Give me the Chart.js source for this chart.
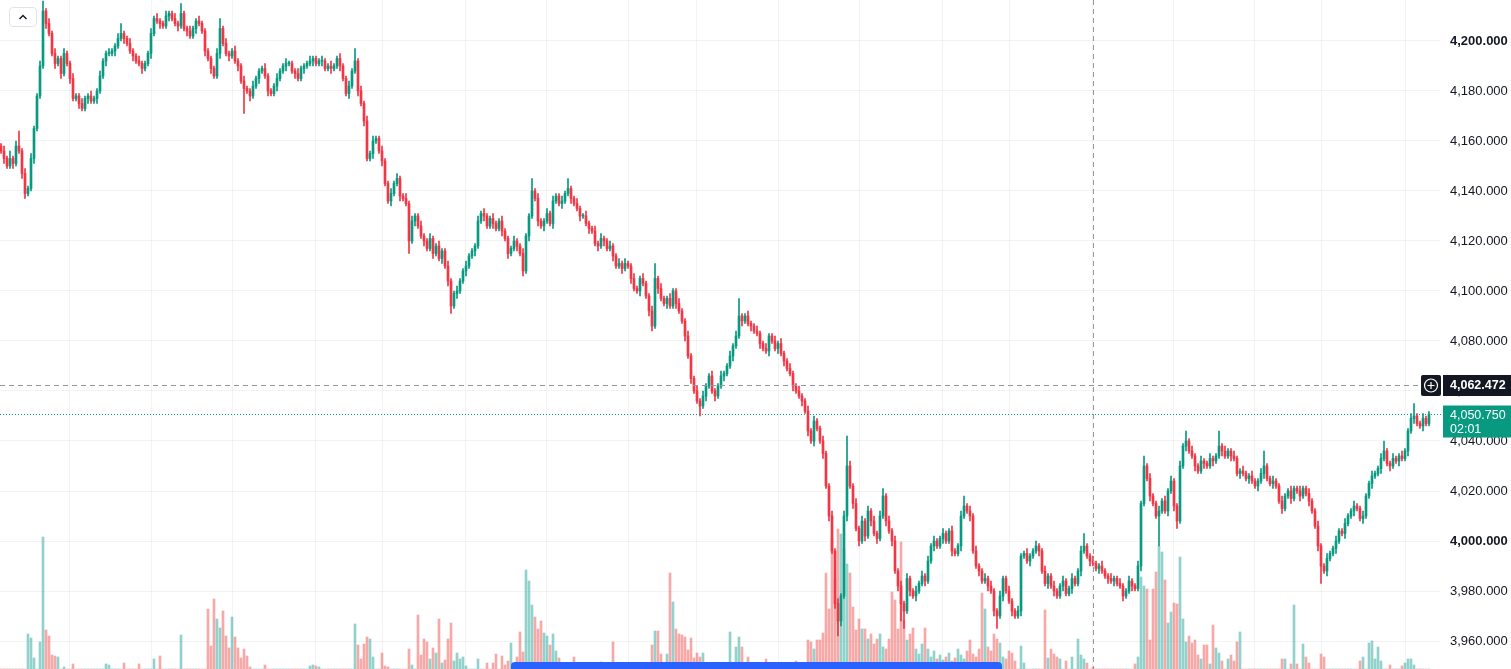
<!DOCTYPE html>
<html>
<head>
<meta charset="utf-8">
<script src="https://cdn.jsdelivr.net/npm/chart.js@4.4.1/dist/chart.umd.min.js"></script>
<style>
  html, body { margin: 0; padding: 0; background: #fff; overflow: hidden; }
  #wrap { position: relative; width: 1511px; height: 669px; }
  #scrollBtn { position: absolute; left: 9px; top: 7px; width: 28px; height: 20px; box-sizing: border-box;
    border: 1px solid #e0e3eb; border-radius: 4px; background: #fff; display: flex; align-items: center; justify-content: center; }
  #scrollbar { position: absolute; left: 511px; top: 662px; width: 491px; height: 7px; background: #2962ff; border-radius: 4px 4px 0 0; }
</style>
</head>
<body>
<div id="wrap">
  <canvas id="chart" width="1511" height="669"></canvas>
  <div id="scrollBtn"><svg width="10" height="6" viewBox="0 0 10 6"><path d="M1.5 5 L5 1.5 L8.5 5" fill="none" stroke="#131722" stroke-width="1.4"/></svg></div>
  <div id="scrollbar"></div>
</div>
<script>
// --- data (one candle every ~3 px) ---
const firstOpen = 4158;
const closes = [
  4156,4153,4150,4153,4151,4158,4156,4147,4139,4141,
  4153,4165,4178,4190,4212,4207,4203,4195,4191,4193,
  4187,4195,4191,4185,4177,4178,4175,4173,4177,4178,
  4176,4177,4180,4186,4192,4195,4195,4196,4198,4201,
  4203,4201,4199,4196,4194,4192,4191,4189,4191,4195,
  4203,4209,4208,4207,4206,4210,4211,4209,4207,4206,
  4211,4205,4204,4202,4205,4208,4207,4204,4196,4193,
  4189,4186,4195,4205,4199,4195,4194,4196,4192,4190,
  4184,4181,4180,4178,4182,4185,4188,4189,4186,4180,
  4179,4182,4185,4188,4190,4191,4191,4188,4187,4185,
  4189,4190,4191,4192,4193,4191,4192,4192,4189,4190,
  4189,4190,4193,4190,4185,4179,4182,4188,4192,4180,
  4175,4168,4153,4155,4160,4161,4156,4152,4143,4136,
  4139,4143,4145,4138,4137,4135,4120,4128,4130,4126,
  4122,4120,4117,4121,4115,4118,4113,4116,4110,4104,
  4094,4099,4100,4104,4108,4110,4114,4116,4118,4128,
  4131,4130,4126,4129,4127,4125,4128,4124,4121,4115,
  4117,4120,4118,4115,4108,4122,4130,4140,4137,4128,
  4126,4128,4131,4127,4136,4138,4135,4136,4139,4141,
  4137,4135,4133,4130,4130,4127,4125,4124,4119,4118,
  4121,4120,4117,4118,4114,4110,4111,4109,4111,4110,
  4105,4101,4100,4105,4103,4098,4092,4086,4105,4101,
  4097,4095,4097,4094,4100,4095,4092,4088,4082,4074,
  4065,4060,4056,4054,4058,4062,4066,4060,4058,4062,
  4066,4067,4070,4074,4078,4082,4090,4088,4090,4087,
  4086,4084,4083,4079,4077,4076,4082,4080,4077,4079,
  4075,4072,4069,4067,4062,4060,4058,4056,4052,4044,
  4040,4048,4045,4040,4035,4022,4010,3996,3975,3968,
  3978,4010,4030,4022,4015,4005,4000,4008,4002,4012,
  4008,4003,4001,4010,4018,4008,4004,4000,3988,3982,
  3975,3972,3985,3980,3978,3980,3983,3986,3984,3992,
  3998,4000,3998,4001,4003,4000,4004,3996,3995,3998,
  4010,4014,4012,4010,3996,3990,3988,3984,3985,3982,
  3980,3972,3970,3978,3985,3980,3976,3972,3970,3972,
  3994,3995,3992,3994,3996,3998,3996,3988,3983,3986,
  3982,3980,3978,3982,3984,3979,3981,3985,3983,3988,
  3996,3998,3994,3992,3991,3989,3990,3988,3986,3985,
  3984,3985,3983,3982,3978,3980,3984,3982,3981,3990,
  4015,4030,4025,4018,4015,4010,4012,4016,4012,4020,
  4024,4014,4008,4030,4038,4040,4036,4034,4030,4028,
  4032,4031,4030,4033,4032,4034,4038,4036,4034,4036,
  4034,4033,4027,4028,4027,4025,4026,4024,4022,4024,
  4027,4030,4025,4023,4024,4022,4016,4013,4018,4020,
  4017,4021,4020,4018,4021,4019,4016,4012,4006,3998,
  3990,3988,3993,3995,3997,4000,4004,4003,4007,4010,
  4012,4014,4013,4009,4010,4018,4023,4026,4027,4029,
  4033,4036,4031,4030,4033,4032,4034,4033,4036,4044,
  4049,4050,4047,4046,4049,4047,4050.75
];
// wick length above / below the body, in price points
const wickUp = [
  1,2,1,3,1,2,6,1,2,1, 2,1,1,2,4,1,2,1,2,1, 1,2,1,1,2,1,1,2,1,1, 2,1,1,2,1,1,2,1,1,2,
  4,1,1,2,1,1,2,1,1,1, 2,1,2,1,1,2,1,1,2,1, 4,1,1,2,1,1,2,1,1,1, 1,1,2,4,1,2,1,1,2,1,
  1,2,1,1,2,1,1,1,2,1, 1,1,2,1,1,2,1,1,1,2, 1,1,1,2,1,1,1,2,1,1, 2,1,1,2,1,1,2,1,5,1,
  2,1,2,1,2,1,1,2,1,1, 2,1,2,1,1,2,1,2,1,1, 2,1,1,2,1,1,2,1,1,2, 1,1,2,1,1,2,1,1,1,2,
  1,2,1,1,2,1,1,2,1,1, 1,2,1,1,2,1,1,5,1,2, 1,1,2,1,2,1,1,2,1,4, 1,1,2,1,1,2,1,1,2,1,
  2,1,1,2,1,1,2,1,2,1, 1,2,1,1,2,1,1,2,6,1, 2,1,1,2,1,1,2,1,1,2, 1,1,2,1,2,1,1,2,1,1,
  2,1,1,2,1,2,7,1,1,2, 1,1,2,1,1,2,1,1,2,1, 2,1,1,2,1,1,2,1,1,2, 1,2,1,1,2,1,1,2,1,2,
  1,2,12,2,1,2,1,2,1,2, 1,2,1,2,3,1,2,1,2,1, 2,1,2,1,1,2,1,2,1,2, 1,2,1,1,2,1,1,2,1,1,
  2,4,1,2,1,2,1,1,2,1, 2,1,1,2,1,1,2,1,1,2, 1,1,2,1,1,2,1,1,2,1, 1,2,1,1,2,1,1,2,1,1,
  2,5,1,1,2,1,1,2,1,1, 2,1,1,2,1,1,2,1,1,2, 1,4,1,2,1,1,2,1,2,1, 2,1,1,2,1,4,1,2,1,1,
  2,1,1,2,1,1,6,1,2,1, 1,2,1,1,2,1,1,2,1,1, 2,6,1,1,2,1,1,2,1,1, 2,1,1,2,1,1,2,1,1,2,
  1,1,2,1,1,2,1,1,2,1, 1,2,1,1,2,1,1,2,1,1, 2,4,1,1,2,1,1,2,1,1, 2,5,1,1,2,1,1
];
const wickDown = [
  1,2,1,1,2,1,1,2,2,1, 1,2,1,1,1,2,1,1,2,1, 2,1,1,2,1,1,2,1,1,2, 1,1,2,1,1,2,1,1,2,1,
  1,2,1,1,2,1,1,2,1,1, 2,1,1,2,1,1,2,1,1,2, 1,1,2,1,1,2,1,1,2,1, 2,1,1,2,1,1,2,1,1,2,
  1,10,1,2,1,1,2,1,1,2, 1,1,2,1,1,2,1,1,2,1, 1,2,1,1,2,1,1,2,1,1, 2,1,1,2,1,1,2,1,1,2,
  1,2,1,1,2,1,1,2,1,1, 2,1,1,2,1,1,5,1,2,1, 1,2,1,1,2,1,1,2,1,2, 3,1,2,1,1,2,1,1,2,1,
  1,2,1,1,2,1,1,2,1,2, 1,1,2,1,2,1,2,1,1,2, 1,2,1,1,2,1,1,2,1,1, 2,1,1,2,1,1,2,1,1,2,
  1,2,1,1,2,1,1,2,1,1, 2,1,1,2,1,1,2,2,1,2, 1,1,2,1,1,2,1,1,2,1, 2,1,1,4,1,2,1,1,2,1,
  1,2,1,1,2,1,1,2,1,1, 2,1,1,2,1,1,2,1,1,2, 1,2,1,1,2,1,1,2,1,2, 1,2,1,1,2,1,2,1,2,6,
  2,1,2,1,2,1,2,1,2,1, 2,1,2,1,1,2,1,2,1,2, 7,7,1,2,1,2,1,1,2,1, 1,2,1,1,2,1,1,2,1,1,
  2,1,1,2,1,1,2,1,1,2, 1,2,5,1,2,1,1,2,1,1, 2,1,1,2,1,1,2,1,1,2, 1,2,1,1,2,1,1,2,1,1,
  2,1,1,2,1,1,2,1,1,2, 1,2,1,1,2,1,1,2,1,1, 2,1,1,2,1,1,12,1,1,2, 1,2,3,1,1,2,1,1,2,1,
  1,2,1,1,2,1,1,2,1,1, 2,1,1,2,1,1,2,1,1,2, 1,2,1,1,2,1,1,2,1,1, 2,1,1,2,1,1,2,1,1,2,
  7,1,2,1,1,2,1,1,2,1, 1,2,1,1,2,1,1,2,1,1, 2,1,1,2,1,1,2,1,1,2, 1,2,1,1,2,1,1
];
const volumes = [
  0,0,0,0,0,0,0,0,0,35, 31,11,0,27,132,39,33,14,13,12, 0,2,0,0,5,0,0,0,0,0, 0,0,0,0,0,5,4,0,0,0,
  0,6,0,0,0,0,5,0,0,0, 0,10,0,13,0,0,0,0,0,0, 34,0,0,0,0,0,0,0,0,60, 23,70,50,41,58,33,21,52,32,21,
  11,20,13,2,0,0,0,0,4,0, 0,0,0,0,0,0,0,0,0,0, 0,0,0,3,4,3,2,0,0,0, 0,0,0,0,0,0,0,0,45,24,
  10,25,32,30,12,0,0,16,3,2, 0,0,0,0,0,0,20,4,0,54, 14,30,27,10,21,16,50,6,9,30, 46,8,16,10,12,3,0,0,0,10,
  0,0,6,0,6,15,0,13,4,8, 26,5,12,37,17,99,88,64,52,40, 48,36,33,24,35,18,11,0,0,0, 0,12,0,0,0,0,0,0,0,0,
  7,0,0,0,27,0,0,0,0,0, 0,0,0,0,0,0,0,24,38,38, 15,0,15,96,67,40,35,34,32,19, 31,11,16,12,16,0,0,0,0,0,
  0,0,0,37,0,22,32,22,0,12, 0,0,0,0,0,10,0,0,0,0, 0,0,0,0,0,8,0,0,0,29, 27,20,29,29,36,96,60,130,90,140,
  135,120,105,96,62,39,50,40,40,30, 35,25,30,35,22,20,30,77,69,40, 127,49,29,35,41,20,15,25,41,20, 12,18,10,14,9,12,16,8,11,20,
  14,10,18,29,15,12,20,76,60,22, 18,35,30,26,12,10,18,16,8,0, 23,6,0,0,0,0,0,0,59,11, 20,15,12,10,0,8,0,12,0,30,
  14,10,6,0,2,0,0,0,0,0, 0,0,0,0,0,0,0,0,5,12, 92,83,80,29,80,97,123,117,89,46, 57,66,65,112,50,27,33,26,29,14,
  10,24,24,5,44,21,16,8,0,10, 14,8,27,37,0,0,0,0,0,0, 0,0,0,0,0,0,0,10,10,0, 5,64,5,0,25,12,6,0,0,0,
  15,12,0,0,0,0,0,0,0,0, 0,0,0,8,12,0,26,28,10,22, 8,0,0,4,0,0,0,3,6,10, 10,4,0,0,0,0,0
];
const priceTicks = [3960, 3980, 4000, 4020, 4040, 4060, 4080, 4100, 4120, 4140, 4160, 4180, 4200];
const boldTicks = [4000, 4200];
const timeGridAt = [23, 50.33, 77.33, 104.67, 127.33, 154.67, 182, 209.33, 232, 259.33, 286.33, 313.67, 336.33, 364, 390.67, 418, 440.33, 468.33];
const crosshairIndex = 364;
const crosshairPrice = 4062.472;
const countdown = '02:01';

const upColor = '#089981';
const downColor = '#f23645';
const upVol = 'rgba(38, 166, 154, 0.5)';
const downVol = 'rgba(239, 83, 80, 0.5)';
const gridColor = 'rgba(42, 46, 57, 0.06)';
const fontFamily = '"Liberation Sans", Arial, sans-serif';

const fmt = v => v.toLocaleString('en-US', { minimumFractionDigits: 3, maximumFractionDigits: 3 });

const opens = closes.map((c, i) => i === 0 ? firstOpen : closes[i - 1]);
const isUp = closes.map((c, i) => c >= opens[i]);
const bodies = closes.map((c, i) => ({ x: i, y: [opens[i], c] }));
const wicks = closes.map((c, i) => ({
  x: i,
  y: [Math.min(opens[i], c) - wickDown[i], Math.max(opens[i], c) + wickUp[i]]
}));
const vols = volumes.map((v, i) => ({ x: i, y: v }));
const lastPrice = closes[closes.length - 1];

const overlay = {
  id: 'overlay',
  afterDraw(chart) {
    const { ctx, chartArea: a, scales: { x, y } } = chart;
    const cx = Math.round(x.getPixelForValue(crosshairIndex)) + 0.5;
    const cy = Math.round(y.getPixelForValue(crosshairPrice)) + 0.5;
    const ly = Math.round(y.getPixelForValue(lastPrice)) + 0.5;
    ctx.save();
    ctx.lineWidth = 1;

    ctx.strokeStyle = upColor;
    ctx.setLineDash([1, 2]);
    ctx.beginPath(); ctx.moveTo(a.left, ly); ctx.lineTo(1443, ly); ctx.stroke();

    ctx.strokeStyle = '#9598a1';
    ctx.setLineDash([5, 4]);
    ctx.beginPath(); ctx.moveTo(cx, a.top); ctx.lineTo(cx, a.bottom); ctx.stroke();
    ctx.beginPath(); ctx.moveTo(a.left, cy); ctx.lineTo(1421, cy); ctx.stroke();
    ctx.setLineDash([]);

    // crosshair price label with plus button
    ctx.fillStyle = '#131722';
    ctx.beginPath(); ctx.roundRect(1421, cy - 10.5, 20, 21, 2); ctx.fill();
    ctx.fillRect(1443, cy - 10.5, 68, 21);
    ctx.strokeStyle = '#fff';
    ctx.lineWidth = 1.2;
    ctx.beginPath(); ctx.arc(1431, cy, 6.5, 0, Math.PI * 2); ctx.stroke();
    ctx.beginPath();
    ctx.moveTo(1427.5, cy); ctx.lineTo(1434.5, cy);
    ctx.moveTo(1431, cy - 3.5); ctx.lineTo(1431, cy + 3.5);
    ctx.stroke();
    ctx.fillStyle = '#fff';
    ctx.font = 'bold 12.5px ' + fontFamily;
    ctx.textBaseline = 'middle';
    ctx.textAlign = 'left';
    ctx.fillText(fmt(crosshairPrice), 1450, cy + 0.5);

    // last price label
    ctx.fillStyle = upColor;
    ctx.fillRect(1443, ly - 9, 68, 32);
    ctx.fillStyle = '#fff';
    ctx.font = '12.5px ' + fontFamily;
    ctx.fillText(fmt(lastPrice), 1450, ly + 1);
    ctx.fillText(countdown, 1450, ly + 15);
    ctx.restore();
  }
};

new Chart(document.getElementById('chart'), {
  type: 'bar',
  data: {
    datasets: [
      {
        label: 'volume',
        data: vols,
        yAxisID: 'vol',
        backgroundColor: isUp.map(u => u ? upVol : downVol),
        barThickness: 2,
        grouped: false,
        order: 3
      },
      {
        label: 'wick',
        data: wicks,
        backgroundColor: isUp.map(u => u ? upColor : downColor),
        barThickness: 1,
        grouped: false,
        order: 2
      },
      {
        label: 'body',
        data: bodies,
        backgroundColor: isUp.map(u => u ? upColor : downColor),
        barThickness: 2,
        minBarLength: 1,
        grouped: false,
        order: 1
      }
    ]
  },
  options: {
    responsive: false,
    devicePixelRatio: 1,
    animation: false,
    layout: { padding: 0 },
    plugins: { legend: { display: false }, tooltip: { enabled: false } },
    scales: {
      x: {
        type: 'linear',
        min: -1 / 3,
        max: 479.667,
        offset: false,
        afterBuildTicks: s => { s.ticks = timeGridAt.map(v => ({ value: v })); },
        grid: { color: gridColor, drawTicks: false, offset: false },
        border: { display: false },
        ticks: { display: false }
      },
      y: {
        position: 'right',
        min: 3948.8,
        max: 4216.4,
        afterBuildTicks: s => { s.ticks = priceTicks.map(v => ({ value: v })); },
        afterFit: s => { s.width = 71; s.paddingTop = 0; s.paddingBottom = 0; },
        grid: { color: gridColor, drawTicks: false },
        border: { display: false },
        ticks: {
          padding: 10,
          color: '#131722',
          font: c => ({ family: fontFamily, size: 13, weight: (c.tick && boldTicks.includes(c.tick.value)) ? 'bold' : 'normal' }),
          callback: v => fmt(v)
        }
      },
      vol: {
        display: false,
        min: 0,
        max: 669
      }
    }
  },
  plugins: [overlay]
});
</script>
</body>
</html>
